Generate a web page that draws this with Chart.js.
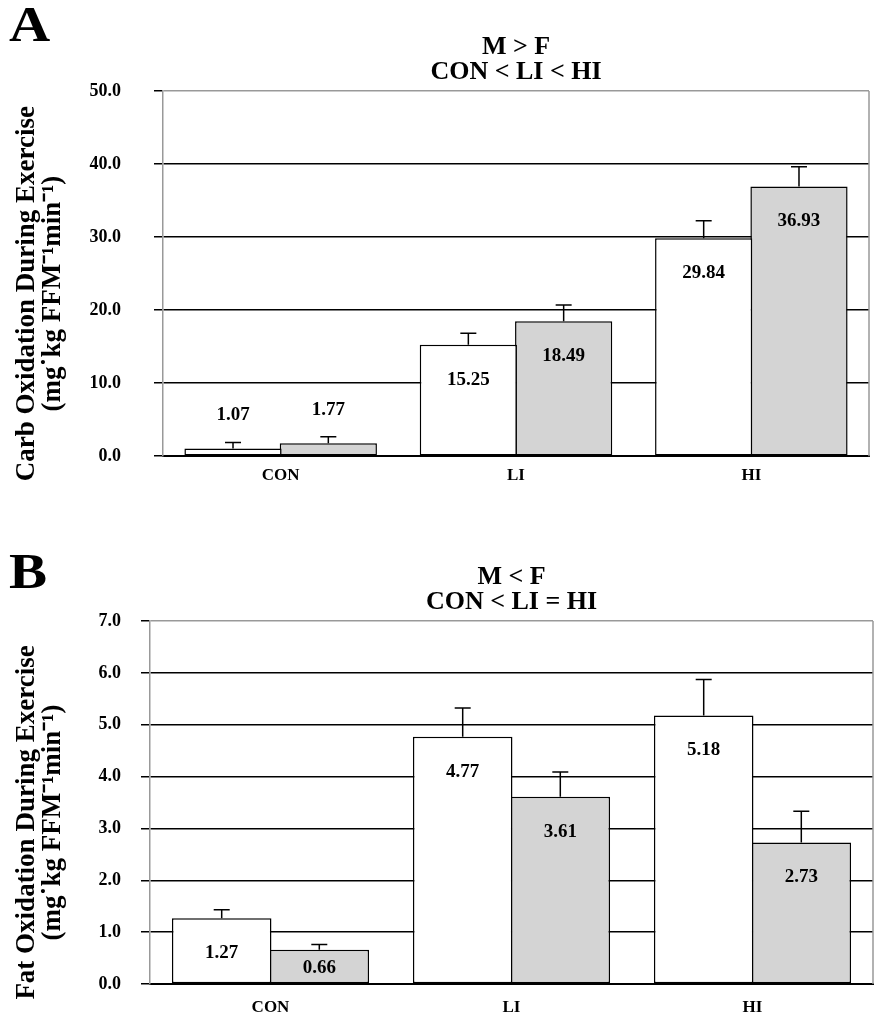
<!DOCTYPE html>
<html>
<head>
<meta charset="utf-8">
<title>Carbohydrate and fat oxidation during exercise</title>
<script src="https://cdn.jsdelivr.net/npm/chart.js@4.4.1/dist/chart.umd.min.js"></script>
<style>
  body { margin: 0; background: #fff; font-family: 'Liberation Serif', 'Times New Roman', serif; }
  .panel { position: absolute; left: 0; width: 877px; }
  .letter { position: absolute; left: 9px; font-weight: bold; font-size: 51px; line-height: 1;
            transform: scaleX(1.12); transform-origin: left top; }
</style>
</head>
<body>
<div class="panel" style="top:0"><canvas id="chartA" width="877" height="500"></canvas></div>
<div class="letter" style="top:-1px">A</div>
<div class="panel" style="top:530px"><canvas id="chartB" width="877" height="494"></canvas></div>
<div class="letter" style="top:546px">B</div>
<script>
// data
var categories = ['CON', 'LI', 'HI'];

var carbMale = [1.07, 15.25, 29.84];
var carbFemale = [1.77, 18.49, 36.93];
var carbMaleErr = [0.8, 1.6, 2.4];
var carbFemaleErr = [0.9, 2.2, 2.7];

var fatMale = [1.27, 4.77, 5.18];
var fatFemale = [0.66, 3.61, 2.73];
var fatMaleErr = [0.16, 0.55, 0.69];
var fatFemaleErr = [0.10, 0.48, 0.60];

var carbTicks = { max: 50, step: 10 };
var fatTicks = { max: 7, step: 1 };

var serif = "'Liberation Serif', 'Times New Roman', serif";

// upward error bars with a cap
var errorBars = {
  id: 'errorBars',
  afterDatasetsDraw: function(chart) {
    var ctx = chart.ctx;
    var y = chart.scales.y;
    ctx.save();
    ctx.strokeStyle = '#000';
    ctx.lineWidth = 1.5;
    chart.data.datasets.forEach(function(ds, i) {
      chart.getDatasetMeta(i).data.forEach(function(bar, j) {
        var top = y.getPixelForValue(ds.data[j] + ds.errors[j]);
        ctx.beginPath();
        ctx.moveTo(bar.x, bar.y);
        ctx.lineTo(bar.x, top);
        ctx.moveTo(bar.x - 8, top);
        ctx.lineTo(bar.x + 8, top);
        ctx.stroke();
      });
    });
    ctx.restore();
  }
};

// value labels: inside the bar near the top, above it when the bar is tiny
var barLabels = {
  id: 'barLabels',
  afterDatasetsDraw: function(chart) {
    var ctx = chart.ctx;
    ctx.save();
    ctx.fillStyle = '#000';
    ctx.font = 'bold 19px ' + serif;
    ctx.textAlign = 'center';
    ctx.textBaseline = 'middle';
    chart.data.datasets.forEach(function(ds, i) {
      chart.getDatasetMeta(i).data.forEach(function(bar, j) {
        var h = bar.base - bar.y;
        var ty;
        if (h < 20) ty = bar.y - 33;
        else ty = Math.min(bar.y + 35, (bar.y + bar.base) / 2 + 2);
        ctx.fillText(ds.data[j].toFixed(2), bar.x, ty);
      });
    });
    ctx.restore();
  }
};

// grey frame line on the right of the plot
var frame = {
  id: 'frame',
  afterDraw: function(chart) {
    var a = chart.chartArea;
    var ctx = chart.ctx;
    ctx.save();
    ctx.strokeStyle = '#999';
    ctx.lineWidth = 1.5;
    ctx.beginPath();
    ctx.moveTo(a.right, a.top);
    ctx.lineTo(a.right, a.bottom);
    ctx.stroke();
    ctx.restore();
  }
};

// rotated two-line y title, sitting a bit below the plot centre like the original
var yTitle = {
  id: 'yTitle',
  afterDraw: function(chart, args, opts) {
    var a = chart.chartArea;
    var ctx = chart.ctx;
    var cy = (a.top + a.bottom) / 2 + 20;
    ctx.save();
    ctx.fillStyle = '#000';
    ctx.font = 'bold 27px ' + serif;
    ctx.textAlign = 'center';
    ctx.textBaseline = 'middle';
    opts.text.forEach(function(line, i) {
      ctx.save();
      ctx.translate(27 + i * 26, cy);
      ctx.rotate(-Math.PI / 2);
      ctx.fillText(line, 0, 0);
      ctx.restore();
    });
    ctx.restore();
  }
};

function makeChart(id, male, female, maleErr, femaleErr, ticks, title, axisTitle, axisWidth, tickPad, rightPad, xPad) {
  return new Chart(document.getElementById(id), {
    type: 'bar',
    data: {
      labels: categories,
      datasets: [{
        label: 'M',
        data: male,
        errors: maleErr,
        backgroundColor: '#ffffff',
        borderColor: '#000',
        borderWidth: 1.5,
        borderSkipped: false
      }, {
        label: 'F',
        data: female,
        errors: femaleErr,
        backgroundColor: '#d4d4d4',
        borderColor: '#000',
        borderWidth: 1.5,
        borderSkipped: false
      }]
    },
    options: {
      responsive: false,
      animation: false,
      events: [],
      layout: { padding: { left: 0, right: rightPad, top: 0, bottom: 0 } },
      datasets: { bar: { categoryPercentage: 0.81, barPercentage: 1.02 } },
      plugins: {
        legend: { display: false },
        tooltip: { enabled: false },
        yTitle: { text: axisTitle },
        title: {
          display: true,
          text: title,
          fullSize: false,
          color: '#000',
          font: { family: serif, size: 26, weight: 'bold', lineHeight: 25 / 26 },
          padding: { top: 34.5, bottom: 6.5 }
        }
      },
      scales: {
        x: {
          grid: { display: false, drawTicks: false },
          border: { color: '#000', width: 2 },
          ticks: { color: '#000', padding: xPad, font: { family: serif, size: 17, weight: 'bold' } },
          afterFit: function(s) { s.height = 40; }
        },
        y: {
          min: 0,
          max: ticks.max,
          ticks: {
            stepSize: ticks.step,
            padding: tickPad,
            color: '#000',
            font: { family: serif, size: 18, weight: 'bold' },
            callback: function(v) { return v.toFixed(1); }
          },
          grid: {
            color: function(c) { return c.tick && c.tick.value === ticks.max ? '#999' : '#000'; },
            lineWidth: 1.5,
            tickLength: 9,
            tickColor: '#000'
          },
          border: { color: '#999', width: 1.5 },
          afterFit: function(s) { s.width = axisWidth; }
        }
      }
    },
    plugins: [errorBars, barLabels, frame, yTitle]
  });
}

makeChart('chartA', carbMale, carbFemale, carbMaleErr, carbFemaleErr, carbTicks,
  ['M > F', 'CON < LI < HI'],
  ['Carb Oxidation During Exercise', '(mg\u02D9kg FFM\u207B\u00B9min\u207B\u00B9)'],
  163, 33, 8, 9);

makeChart('chartB', fatMale, fatFemale, fatMaleErr, fatFemaleErr, fatTicks,
  ['M < F', 'CON < LI = HI'],
  ['Fat Oxidation During Exercise', '(mg\u02D9kg FFM\u207B\u00B9min\u207B\u00B9)'],
  150, 20, 4, 13);
</script>
</body>
</html>
